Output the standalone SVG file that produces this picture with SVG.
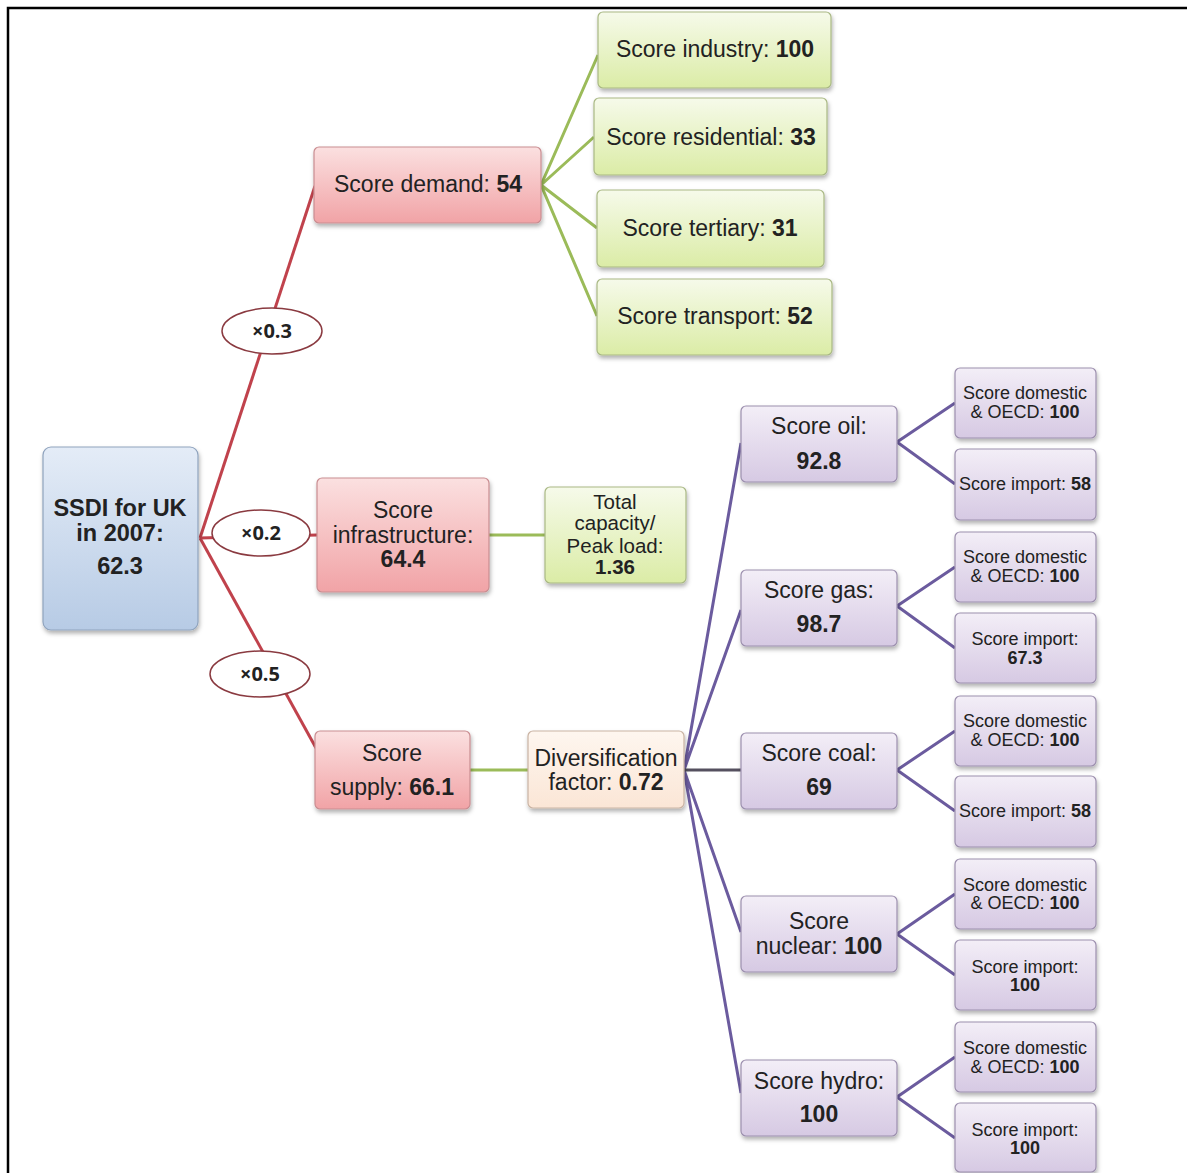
<svg xmlns="http://www.w3.org/2000/svg" width="1187" height="1173" viewBox="0 0 1187 1173">
<defs>
<linearGradient id="gBlue" x1="0" y1="0" x2="0" y2="1"><stop offset="0" stop-color="#e4ecf7"/><stop offset="1" stop-color="#b7cbe5"/></linearGradient>
<linearGradient id="gRed" x1="0" y1="0" x2="0" y2="1"><stop offset="0" stop-color="#fbe0e0"/><stop offset="1" stop-color="#f1a3a6"/></linearGradient>
<linearGradient id="gGreen" x1="0" y1="0" x2="0" y2="1"><stop offset="0" stop-color="#f6faea"/><stop offset="1" stop-color="#dbeca6"/></linearGradient>
<linearGradient id="gPurple" x1="0" y1="0" x2="0" y2="1"><stop offset="0" stop-color="#f3eef7"/><stop offset="1" stop-color="#d6c9e3"/></linearGradient>
<linearGradient id="gPeach" x1="0" y1="0" x2="0" y2="1"><stop offset="0" stop-color="#fef6ef"/><stop offset="1" stop-color="#fbe6d6"/></linearGradient>
<filter id="sh" x="-10%" y="-10%" width="130%" height="140%"><feDropShadow dx="1" dy="3" stdDeviation="2" flood-color="#000" flood-opacity="0.3"/></filter>
</defs>
<style>
text{font-family:"Liberation Sans",Arial,sans-serif;fill:#222;text-anchor:middle}
.l{font-size:23px}
.s{font-size:18px}
.m{font-size:20.5px}
.big{font-size:23.5px}
.b{font-weight:bold}
.box{stroke-width:1.2;filter:url(#sh)}
.blue{fill:url(#gBlue);stroke:#8fa3bd}
.red{fill:url(#gRed);stroke:#c98d91}
.green{fill:url(#gGreen);stroke:#a9b884}
.purple{fill:url(#gPurple);stroke:#9c8fae}
.peach{fill:url(#gPeach);stroke:#c9b3a3}
.cr{stroke:#c0424c;stroke-width:3;fill:none}
.cg{stroke:#9bbb59;stroke-width:3;fill:none}
.cp{stroke:#6b5b9e;stroke-width:3;fill:none}
.ell{fill:#fff;stroke:#8a3a40;stroke-width:1.5}
.eT{font-size:20px;font-weight:bold;font-family:"Open Sans","Liberation Sans",sans-serif}
</style>
<rect width="1187" height="1173" fill="#fff"/>
<path d="M8,1173 V8 H1187" fill="none" stroke="#000" stroke-width="2.5"/>

<g id="connectors">
<path class="cr" d="M200,538 L315,186"/>
<path class="cr" d="M200,538 L317,535"/>
<path class="cr" d="M200,538 L316,748"/>
<path class="cg" d="M541,185 L598,55 M541,185 L594,137 M541,185 L597,228 M541,185 L597,316"/>
<path class="cg" d="M489,535 H545"/>
<path class="cg" d="M470,770 H528"/>
<path class="cp" d="M684,770 L741,443 M684,770 L741,610 M684,770 L741,932 M684,770 L741,1093"/>
<path d="M684,770 H741" stroke="#55505f" stroke-width="3"/>
<path class="cp" d="M897,442 L955,403 M897,442 L955,484"/>
<path class="cp" d="M897,606 L955,567 M897,606 L955,648"/>
<path class="cp" d="M897,770 L955,731 M897,770 L955,811"/>
<path class="cp" d="M897,934 L955,894 M897,934 L955,975"/>
<path class="cp" d="M897,1097 L955,1057 M897,1097 L955,1138"/>
</g>

<g id="w03"><ellipse class="ell" cx="272" cy="331" rx="50" ry="23"/><text class="eT" x="272" y="338">×0.3</text></g>
<g id="w02"><ellipse class="ell" cx="261" cy="533" rx="49" ry="23"/><text class="eT" x="261" y="540">×0.2</text></g>
<g id="w05"><ellipse class="ell" cx="260" cy="674" rx="50" ry="23"/><text class="eT" x="260" y="681">×0.5</text></g>

<g id="ssdi"><rect class="box blue" x="43" y="447" width="155" height="183" rx="8"/>
<text class="big b" x="120" y="516">SSDI for UK</text><text class="big b" x="120" y="541">in 2007:</text><text class="big b" x="120" y="574">62.3</text></g>

<g id="demand"><rect class="box red" x="314" y="147" width="227" height="76" rx="5"/>
<text class="l" x="428" y="192">Score demand: <tspan class="b">54</tspan></text></g>
<g id="industry"><rect class="box green" x="598" y="12" width="233" height="76" rx="5"/>
<text class="l" x="715" y="57">Score industry: <tspan class="b">100</tspan></text></g>
<g id="residential"><rect class="box green" x="594" y="98" width="233" height="77" rx="5"/>
<text class="l" x="711" y="145">Score residential: <tspan class="b">33</tspan></text></g>
<g id="tertiary"><rect class="box green" x="597" y="190" width="227" height="77" rx="5"/>
<text class="l" x="710" y="236">Score tertiary: <tspan class="b">31</tspan></text></g>
<g id="transport"><rect class="box green" x="597" y="279" width="235" height="76" rx="5"/>
<text class="l" x="715" y="324">Score transport: <tspan class="b">52</tspan></text></g>

<g id="infrastructure"><rect class="box red" x="317" y="478" width="172" height="114" rx="5"/>
<text class="l" x="403" y="518">Score</text><text class="l" x="403" y="543">infrastructure:</text><text class="l b" x="403" y="567">64.4</text></g>
<g id="capacity"><rect class="box green" x="545" y="487" width="141" height="96" rx="5"/>
<text class="m" x="615" y="509">Total</text><text class="m" x="615" y="530">capacity/</text><text class="m" x="615" y="553">Peak load:</text><text class="m b" x="615" y="574">1.36</text></g>

<g id="supply"><rect class="box red" x="315" y="731" width="155" height="78" rx="5"/>
<text class="l" x="392" y="761">Score</text><text class="l" x="392" y="795">supply: <tspan class="b">66.1</tspan></text></g>
<g id="diversification"><rect class="box peach" x="528" y="731" width="156" height="77" rx="5"/>
<text class="l" x="606" y="766">Diversification</text><text class="l" x="606" y="790">factor: <tspan class="b">0.72</tspan></text></g>

<g id="oil"><rect class="box purple" x="741" y="406" width="156" height="76" rx="5"/>
<text class="l" x="819" y="434">Score oil:</text><text class="l b" x="819" y="469">92.8</text></g>
<g id="gas"><rect class="box purple" x="741" y="570" width="156" height="76" rx="5"/>
<text class="l" x="819" y="598">Score gas:</text><text class="l b" x="819" y="632">98.7</text></g>
<g id="coal"><rect class="box purple" x="741" y="733" width="156" height="76" rx="5"/>
<text class="l" x="819" y="761">Score coal:</text><text class="l b" x="819" y="795">69</text></g>
<g id="nuclear"><rect class="box purple" x="741" y="896" width="156" height="76" rx="5"/>
<text class="l" x="819" y="929">Score</text><text class="l" x="819" y="954">nuclear: <tspan class="b">100</tspan></text></g>
<g id="hydro"><rect class="box purple" x="741" y="1060" width="156" height="76" rx="5"/>
<text class="l" x="819" y="1089">Score hydro:</text><text class="l b" x="819" y="1122">100</text></g>

<g id="oilDom"><rect class="box purple" x="955" y="368" width="141" height="70" rx="5"/>
<text class="s" x="1025" y="399">Score domestic</text><text class="s" x="1025" y="418">&amp; OECD: <tspan class="b">100</tspan></text></g>
<g id="oilImp"><rect class="box purple" x="955" y="449" width="141" height="71" rx="5"/>
<text class="s" x="1025" y="490">Score import: <tspan class="b">58</tspan></text></g>
<g id="gasDom"><rect class="box purple" x="955" y="532" width="141" height="70" rx="5"/>
<text class="s" x="1025" y="563">Score domestic</text><text class="s" x="1025" y="582">&amp; OECD: <tspan class="b">100</tspan></text></g>
<g id="gasImp"><rect class="box purple" x="955" y="613" width="141" height="70" rx="5"/>
<text class="s" x="1025" y="645">Score import:</text><text class="s b" x="1025" y="664">67.3</text></g>
<g id="coalDom"><rect class="box purple" x="955" y="696" width="141" height="70" rx="5"/>
<text class="s" x="1025" y="727">Score domestic</text><text class="s" x="1025" y="746">&amp; OECD: <tspan class="b">100</tspan></text></g>
<g id="coalImp"><rect class="box purple" x="955" y="776" width="141" height="71" rx="5"/>
<text class="s" x="1025" y="817">Score import: <tspan class="b">58</tspan></text></g>
<g id="nucDom"><rect class="box purple" x="955" y="859" width="141" height="70" rx="5"/>
<text class="s" x="1025" y="891">Score domestic</text><text class="s" x="1025" y="909">&amp; OECD: <tspan class="b">100</tspan></text></g>
<g id="nucImp"><rect class="box purple" x="955" y="940" width="141" height="70" rx="5"/>
<text class="s" x="1025" y="973">Score import:</text><text class="s b" x="1025" y="991">100</text></g>
<g id="hydDom"><rect class="box purple" x="955" y="1022" width="141" height="70" rx="5"/>
<text class="s" x="1025" y="1054">Score domestic</text><text class="s" x="1025" y="1073">&amp; OECD: <tspan class="b">100</tspan></text></g>
<g id="hydImp"><rect class="box purple" x="955" y="1103" width="141" height="69" rx="5"/>
<text class="s" x="1025" y="1136">Score import:</text><text class="s b" x="1025" y="1154">100</text></g>
</svg>
